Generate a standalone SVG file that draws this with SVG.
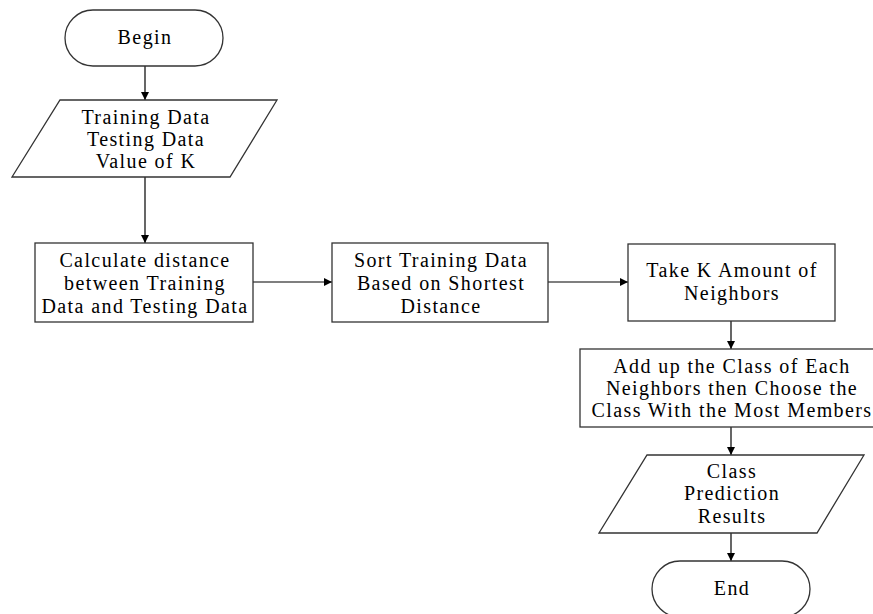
<svg xmlns="http://www.w3.org/2000/svg" width="873" height="614" viewBox="0 0 873 614">
  <defs>
    <marker id="arrow" viewBox="0 0 10 10" refX="10" refY="5" markerWidth="9" markerHeight="8" markerUnits="userSpaceOnUse" orient="auto">
      <path d="M0,0 L10,5 L0,10 Z" fill="#000"/>
    </marker>
    <style>
      .shape { fill: #fff; stroke: #333; stroke-width: 1.3; }
      .label { font-family: "Liberation Serif", "Times New Roman", serif; font-size: 20px; letter-spacing: 1.4px; fill: #000; text-anchor: middle; }
      .conn { stroke: #000; stroke-width: 1.2; fill: none; marker-end: url(#arrow); }
    </style>
  </defs>
  <rect width="873" height="614" fill="#fff"/>

  <!-- connectors -->
  <g id="connectors">
    <line class="conn" x1="145" y1="66" x2="145" y2="100"/>
    <line class="conn" x1="145" y1="177" x2="145" y2="243"/>
    <line class="conn" x1="253" y1="282" x2="332" y2="282"/>
    <line class="conn" x1="548" y1="282" x2="628" y2="282"/>
    <line class="conn" x1="731" y1="321" x2="731" y2="349"/>
    <line class="conn" x1="731" y1="427" x2="731" y2="455"/>
    <line class="conn" x1="731" y1="533" x2="731" y2="561"/>
  </g>

  <g id="begin">
    <rect class="shape" x="65" y="10" width="158" height="56" rx="28" ry="28"/>
    <text class="label" x="145" y="44">Begin</text>
  </g>

  <g id="input">
    <polygon class="shape" points="60,100 277,100 230,177 12,177"/>
    <text class="label" x="146" y="124">Training Data</text>
    <text class="label" x="146" y="146">Testing Data</text>
    <text class="label" x="146" y="168">Value of K</text>
  </g>

  <g id="calculate">
    <rect class="shape" x="35" y="243" width="218" height="79"/>
    <text class="label" x="145" y="267">Calculate distance</text>
    <text class="label" x="145" y="290">between Training</text>
    <text class="label" x="145" y="313">Data and Testing Data</text>
  </g>

  <g id="sort">
    <rect class="shape" x="332" y="243" width="216" height="79"/>
    <text class="label" x="441" y="267">Sort Training Data</text>
    <text class="label" x="441" y="290">Based on Shortest</text>
    <text class="label" x="441" y="313">Distance</text>
  </g>

  <g id="take">
    <rect class="shape" x="628" y="244" width="207" height="77"/>
    <text class="label" x="732" y="277">Take K Amount of</text>
    <text class="label" x="732" y="300">Neighbors</text>
  </g>

  <g id="addup">
    <rect class="shape" x="580" y="349" width="302" height="78"/>
    <text class="label" x="732" y="373">Add up the Class of Each</text>
    <text class="label" x="732" y="395">Neighbors then Choose the</text>
    <text class="label" x="732" y="417">Class With the Most Members</text>
  </g>

  <g id="output">
    <polygon class="shape" points="647,455 864,455 817,533 599,533"/>
    <text class="label" x="732" y="478">Class</text>
    <text class="label" x="732" y="500">Prediction</text>
    <text class="label" x="732" y="523">Results</text>
  </g>

  <g id="end">
    <rect class="shape" x="652" y="561" width="158" height="56" rx="28" ry="28"/>
    <text class="label" x="732" y="595">End</text>
  </g>
</svg>
